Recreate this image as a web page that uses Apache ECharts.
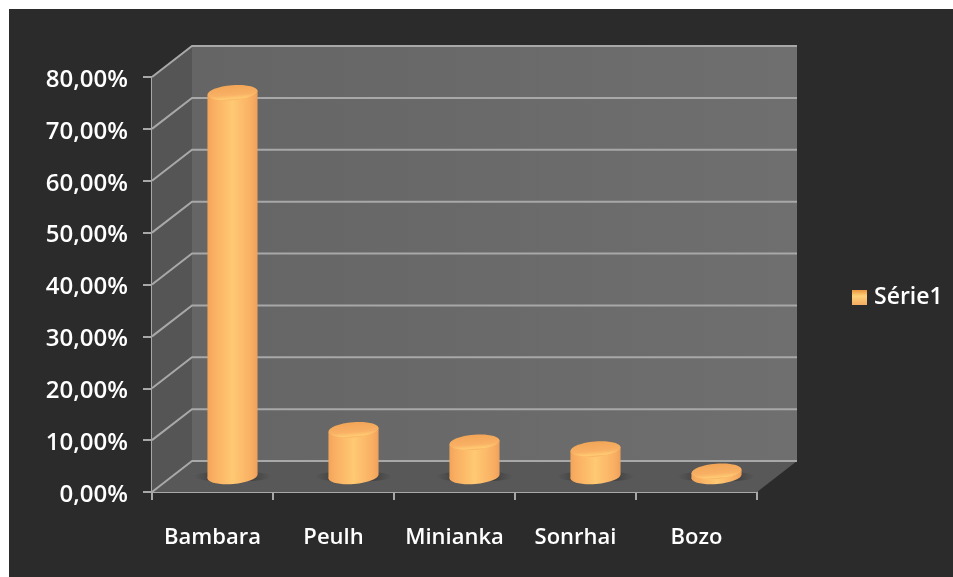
<!DOCTYPE html>
<html><head><meta charset="utf-8">
<style>html,body{margin:0;padding:0;background:#fff}#c{width:953px;height:577px;filter:blur(0.5px)}</style>
<script src="https://cdn.jsdelivr.net/npm/echarts@6/dist/echarts.min.js"></script>
</head><body><div id="c"></div>
<script>
const categories = ['Bambara','Peulh','Minianka','Sonrhai','Bozo'];
const seriesName = 'Série1';
const values = [74, 9, 6.6, 5.3, 1];
const yTicks = [0,10,20,30,40,50,60,70,80];

const lineColor = '#a8a8a8';
const depthX = 40, depthY = -31;
const tilt = 0.08;

function hGrad(a,b,c,d,e){
  return {type:'linear',x:0,y:0,x2:1,y2:0,colorStops:[
    {offset:0,color:a},{offset:.1,color:b},{offset:.5,color:c},{offset:.88,color:d},{offset:1,color:e}]};
}
function renderWalls(params, api){
  const v = api.value(0);
  const p = api.coord([0, v]);
  const left = params.coordSys.x, right = left + params.coordSys.width;
  const y = p[1];
  const children = [];
  if (v === yTicks[0]) {
    const top = params.coordSys.y;
    children.push({type:'polygon',shape:{points:[[left,y],[left+depthX,y+depthY],[left+depthX,top+depthY],[left,top]]},
      style:{fill:'#555555'}});
    children.push({type:'rect',shape:{x:left+depthX,y:top+depthY,width:right-left,height:y-top},
      style:{fill:{type:'linear',x:0,y:0,x2:1,y2:0,colorStops:[{offset:0,color:'#656565'},{offset:1,color:'#6f6f6f'}]}}});
    children.push({type:'polygon',shape:{points:[[left,y],[right,y],[right+depthX,y+depthY],[left+depthX,y+depthY]]},
      style:{fill:'#585858'}});
  }
  children.push({type:'polyline',shape:{points:[[left,y],[left+depthX,y+depthY],[right+depthX,y+depthY]]},
    style:{stroke:lineColor,lineWidth:2,fill:null}});
  return {type:'group',children};
}
function renderCyl(params, api){
  const base = api.coord([api.value(0), 0]);
  const topP = api.coord([api.value(0), api.value(1)]);
  const band = api.size([1,0])[0];
  const rx = band*0.207, ry = 7.5;
  const cx = base[0]+depthX/2;
  const by = base[1]+depthY/2, ty = topP[1]+depthY/2;
  const dy = rx*Math.sin(tilt);
  const side = hGrad('#f2a55a','#f9ad60','#ffc973','#f9af63','#eea05c');
  return {type:'group',children:[
    {type:'ellipse',shape:{cx:cx,cy:by,rx:rx*1.55,ry:ry*0.7},
      style:{fill:{type:'linear',x:0,y:0,x2:1,y2:0,colorStops:[{offset:0,color:'rgba(60,60,60,0)'},{offset:.22,color:'rgba(50,50,50,.55)'},{offset:.78,color:'rgba(50,50,50,.55)'},{offset:1,color:'rgba(60,60,60,0)'}]}}},
    {type:'ellipse',x:cx,y:by,rotation:tilt,shape:{cx:0,cy:0,rx:rx,ry:ry},style:{fill:side}},
    {type:'polygon',shape:{points:[[cx-rx,ty+dy],[cx+rx,ty-dy],[cx+rx,by-dy],[cx-rx,by+dy]]},style:{fill:side}},
    {type:'ellipse',x:cx,y:ty,rotation:tilt,shape:{cx:0,cy:0,rx:rx,ry:ry},
      style:{fill:{type:'linear',x:0,y:0,x2:0,y2:1,colorStops:[{offset:0,color:'#f2a557'},{offset:.65,color:'#f9b165'},{offset:.9,color:'#ffcb72'},{offset:1,color:'#f6ad60'}]}}}
  ]};
}
const chart = echarts.init(document.getElementById('c'),null,{renderer:'canvas'});
const fontFamily = '"Open Sans", sans-serif';
chart.setOption({
  animation:false,
  backgroundColor:'#fff',
  graphic:[{type:'rect',z:-10,silent:true,shape:{x:9,y:9,width:944,height:568},style:{fill:'#2b2b2b'}}],
  grid:{left:152,right:196,top:77,bottom:85,containLabel:false},
  legend:{left:852,top:286,padding:0,orient:'vertical',itemWidth:15,itemHeight:15,itemGap:0,
    textStyle:{color:'#fff',fontFamily,fontSize:23,fontWeight:600,padding:[2,0,0,2]},
    data:[{name:seriesName,icon:'rect',itemStyle:{color:{type:'linear',x:0,y:0,x2:0,y2:1,colorStops:[{offset:0,color:'#e9953f'},{offset:.4,color:'#ffd27a'},{offset:1,color:'#f5ab62'}]}}}]},
  xAxis:{type:'category',data:categories,boundaryGap:true,
    axisLine:{show:true,lineStyle:{color:lineColor,width:2}},
    axisTick:{show:true,alignWithLabel:false,length:8,lineStyle:{color:lineColor,width:2}},
    axisLabel:{color:'#fff',fontFamily,fontSize:22,margin:35,fontWeight:600,interval:0}},
  yAxis:{type:'value',min:0,max:80,interval:10,
    axisLine:{show:true,lineStyle:{color:lineColor,width:2}},
    axisTick:{show:true,length:9,lineStyle:{color:lineColor,width:2}},
    splitLine:{show:false},
    axisLabel:{color:'#fff',fontFamily,fontSize:24,margin:24,fontWeight:600,verticalAlign:'top',lineHeight:6,
      formatter:v=>v.toFixed(2).replace('.',',')+'%'}},
  series:[
    {type:'custom',name:'walls',silent:true,z:1,renderItem:renderWalls,
     encode:{y:0},data:yTicks.map(v=>[v])},
    {type:'custom',name:seriesName,z:2,renderItem:renderCyl,itemStyle:{color:'#f9ad60'},
     encode:{x:0,y:1},data:values.map((v,i)=>[i,v])}
  ]
});
</script></body></html>
